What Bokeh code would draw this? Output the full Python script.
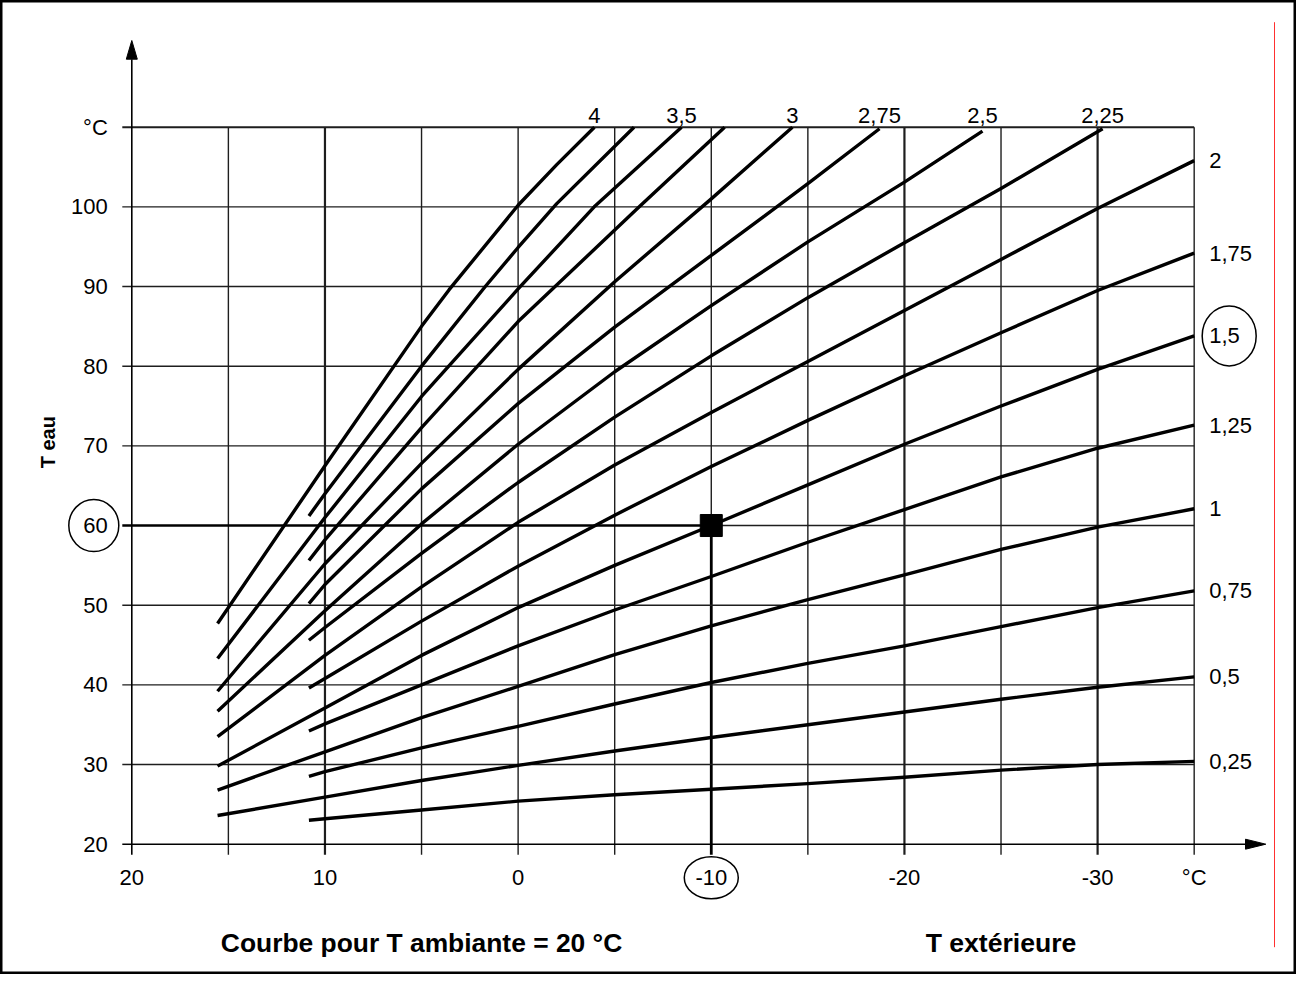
from bokeh.plotting import figure
from bokeh.models import Range1d
from bokeh.core.properties import value
from bokeh.embed import file_html
from bokeh.resources import INLINE

# ---------------- data ----------------
grid_t = [15, 10, 5, 0, -5, -10, -15, -20, -25, -30, -35]
thick_t = [10, -20, -30]
grid_y = [30, 40, 50, 60, 70, 80, 90, 100, 110]
y_ticks = [20, 30, 40, 50, 60, 70, 80, 90, 100, 110]
y_tick_labels = ["20", "30", "40", "50", "60", "70", "80", "90", "100", "°C"]
x_ticks = [20, 10, 0, -10, -20, -30, -35]
x_tick_labels = ["20", "10", "0", "-10", "-20", "-30", "°C"]

# heating curves: outside temperature (t) -> water temperature (y)
t_400 = [15.56, 10, 5, 3.57, 0, -2.0, -3.95]
y_400 = [47.7, 67.5, 85.0, 89.6, 100.2, 105.3, 110]
t_375 = [10.83, 10, 5, 1.7, 0, -2.0, -6.0]
y_375 = [61.2, 64.0, 80.0, 90.0, 94.9, 100.4, 110]
t_350 = [15.56, 10, 5, 0, -3.94, -8.46]
y_350 = [43.3, 61.0, 76.2, 89.7, 100, 110]
t_325 = [10.83, 10, 5, 0, -6.27, -10.69]
y_325 = [55.6, 58.2, 72.3, 85.6, 100, 110]
t_300 = [15.56, 10, 5, 0, -5, -10, -14.2]
y_300 = [39.2, 55.2, 67.8, 79.6, 90.6, 101.0, 110]
t_275 = [10.83, 10, 5, 0, -5, -10, -15, -18.71]
y_275 = [50.2, 52.6, 64.6, 75.3, 84.9, 93.9, 102.9, 109.8]
t_250 = [15.56, 10, 5, 0, -5, -10, -15, -20, -24.04]
y_250 = [36.7, 49.3, 60.2, 70.2, 79.3, 87.6, 95.6, 103.1, 109.5]
t_225 = [10.83, 10, 5, 0, -5, -10, -15, -20, -25, -30.26]
y_225 = [45.6, 47.2, 56.5, 65.4, 73.6, 81.3, 88.6, 95.5, 102.3, 109.8]
t_200 = [15.56, 10, 5, 0, -5, -10, -15, -20, -25, -30, -35]
y_200 = [33.5, 43.7, 52.3, 60.4, 67.6, 74.2, 80.6, 87.0, 93.4, 99.8, 105.8]
t_175 = [10.83, 10, 5, 0, -5, -10, -15, -20, -25, -30, -35]
y_175 = [39.6, 40.8, 48.0, 54.9, 61.3, 67.4, 73.2, 78.8, 84.2, 89.5, 94.2]
t_150 = [15.56, 10, 5, 0, -5, -10, -15, -20, -25, -30, -35]
y_150 = [29.8, 37.1, 43.7, 49.7, 55.0, 60.0, 65.1, 70.2, 75.0, 79.6, 83.8]
t_125 = [10.83, 10, 5, 0, -5, -10, -15, -20, -25, -30, -35]
y_125 = [34.2, 35.1, 40.0, 44.9, 49.4, 53.6, 57.9, 62.0, 66.1, 69.7, 72.6]
t_100 = [15.56, 10, 5, 0, -5, -10, -15, -20, -25, -30, -35]
y_100 = [26.8, 31.6, 35.9, 39.8, 43.8, 47.4, 50.7, 53.8, 57.0, 59.8, 62.1]
t_075 = [10.83, 10, 5, 0, -5, -10, -15, -20, -25, -30, -35]
y_075 = [28.5, 29.1, 32.1, 34.8, 37.6, 40.3, 42.7, 44.9, 47.3, 49.7, 51.8]
t_050 = [15.56, 10, 5, 0, -5, -10, -15, -20, -25, -30, -35]
y_050 = [23.6, 25.9, 28.0, 29.9, 31.7, 33.4, 35.0, 36.6, 38.2, 39.7, 41.0]
t_025 = [10.83, 10, 5, 0, -5, -10, -15, -20, -25, -30, -35]
y_025 = [23.0, 23.2, 24.3, 25.4, 26.2, 26.9, 27.6, 28.4, 29.3, 30.0, 30.4]

curve_labels = ["4", "", "3,5", "", "3", "2,75", "2,5", "2,25",
                "2", "1,75", "1,5", "1,25", "1", "0,75", "0,5", "0,25"]
circled_curve = "1,5"

point_t = -10   # chosen outside temperature
point_y = 60    # resulting water temperature

x_title = "T extérieure"
x_note = "Courbe pour T ambiante = 20 °C"
y_title = "T eau"

curves_t = [t_400, t_375, t_350, t_325, t_300, t_275, t_250, t_225,
            t_200, t_175, t_150, t_125, t_100, t_075, t_050, t_025]
curves_y = [y_400, y_375, y_350, y_325, y_300, y_275, y_250, y_225,
            y_200, y_175, y_150, y_125, y_100, y_075, y_050, y_025]

# ---------------- layout / scale constants ----------------
W, H = 1296, 974
PX_T = 19.316      # pixels per degree of outside temperature
PX_Y = 7.967       # pixels per degree of water temperature
X20 = 131.3        # canvas x of T=20
Y20 = 843.7        # canvas y (from top) of Y=20
T_MIN, T_MAX = -35, 20
Y_MIN, Y_MAX = 20, 110

def dt(px):
    return px / PX_T

def dyy(px):
    return px / PX_Y

x_left = T_MAX + dt(X20)
x_right = T_MAX - dt(W - X20)
y_top = Y_MIN + dyy(Y20)
y_bot = Y_MIN - dyy(H - Y20)

p = figure(width=W, height=H, x_range=Range1d(x_left, x_right),
           y_range=Range1d(y_bot, y_top), x_axis_type=None, y_axis_type=None,
           min_border=0, toolbar_location=None, output_backend="svg")
p.outline_line_color = "black"
p.outline_line_width = 4
p.background_fill_color = "white"
p.border_fill_color = "white"

FONT = value("Liberation Sans")
GRID = "#1e1e1e"
INK = "black"

y_low = Y_MIN - dyy(10.5)      # tick end below x-axis
t_leftick = T_MAX + dt(9.5)    # tick end left of y-axis

# vertical grid lines
for t in grid_t:
    lw = 2.2 if t in thick_t else 1.4
    if t == point_t:
        p.line([t, t], [point_y, Y_MAX], line_color=GRID, line_width=1.4)
        p.line([t, t], [y_low, point_y], line_color=INK, line_width=2.8)
    else:
        p.line([t, t], [y_low, Y_MAX], line_color=GRID, line_width=lw)

# horizontal grid lines
for yv in grid_y:
    lw = 2.0 if yv == Y_MAX else 1.4
    if yv == point_y:
        p.line([t_leftick, point_t], [yv, yv], line_color=INK, line_width=2.6)
        p.line([point_t, T_MIN], [yv, yv], line_color=GRID, line_width=1.4)
    else:
        p.line([t_leftick, T_MIN], [yv, yv], line_color=GRID, line_width=lw)

# axes with arrows
y_tip = Y_MIN + dyy(851.7 - 48)
y_base = Y_MIN + dyy(851.7 - 66.7)
t_tip = T_MAX - dt(1273.3 - 139.3)
t_base = T_MAX - dt(1253 - 139.3)
p.line([T_MAX, T_MAX], [y_low, y_base], line_color=INK, line_width=1.6)
p.line([t_leftick, t_base], [Y_MIN, Y_MIN], line_color=INK, line_width=1.6)
p.patch([T_MAX, T_MAX + dt(5.5), T_MAX - dt(5.5)], [y_tip, y_base, y_base],
        fill_color=INK, line_color=INK)
p.patch([t_tip, t_base, t_base], [Y_MIN, Y_MIN + dyy(5), Y_MIN - dyy(5)],
        fill_color=INK, line_color=INK)

# curves
for ts, ys in zip(curves_t, curves_y):
    p.line(ts, ys, line_color=INK, line_width=3.4, line_join="round")

# operating point
p.scatter([point_t], [point_y], marker="square", size=22, fill_color=INK, line_color=INK)

# curve labels
top_x, top_y, top_txt = [], [], []
rt_x, rt_y, rt_txt = [], [], []
for ts, ys, lab in zip(curves_t, curves_y, curve_labels):
    if not lab:
        continue
    if ys[-1] >= Y_MAX - 1:
        top_x.append(ts[-1]); top_y.append(Y_MAX + dyy(12)); top_txt.append(lab)
    else:
        rt_x.append(T_MIN - dt(15)); rt_y.append(ys[-1]); rt_txt.append(lab)
p.text(top_x, top_y, text=top_txt, text_font=FONT, text_font_size="22px",
       text_align="center", text_baseline="middle", text_color=INK)
p.text(rt_x, rt_y, text=rt_txt, text_font=FONT, text_font_size="22px",
       text_align="left", text_baseline="middle", text_color=INK)
ci = curve_labels.index(circled_curve)
p.ellipse([T_MIN - dt(35)], [curves_y[ci][-1]], width=54, height=60,
          width_units="screen", height_units="screen",
          fill_color=None, line_color=INK, line_width=1.5)

# tick labels
p.text([T_MAX + dt(24)] * len(y_ticks), y_ticks, text=y_tick_labels, text_font=FONT,
       text_font_size="22px", text_align="right", text_baseline="middle", text_color=INK)
p.text(x_ticks, [Y_MIN - dyy(33.5)] * len(x_ticks), text=x_tick_labels, text_font=FONT,
       text_font_size="22px", text_align="center", text_baseline="middle", text_color=INK)
# circled tick values
p.ellipse([T_MAX + dt(38)], [point_y], width=50, height=52,
          width_units="screen", height_units="screen",
          fill_color=None, line_color=INK, line_width=1.5)
p.ellipse([point_t], [Y_MIN - dyy(33.5)], width=54, height=42,
          width_units="screen", height_units="screen",
          fill_color=None, line_color=INK, line_width=1.5)

# titles
p.text([5], [Y_MIN - dyy(98.5)], text=[x_note], text_font=FONT, text_font_size="26.4px",
       text_font_style="bold", text_align="center", text_baseline="middle", text_color=INK)
p.text([-25], [Y_MIN - dyy(98.5)], text=[x_title], text_font=FONT, text_font_size="26.6px",
       text_font_style="bold", text_align="center", text_baseline="middle", text_color=INK)
p.text([T_MAX + dt(84)], [Y_MIN + dyy(402)], text=[y_title], text_font=FONT,
       text_font_size="20px", text_font_style="bold", angle=1.5708,
       text_align="center", text_baseline="middle", text_color=INK)

# red margin line
p.line([T_MAX - dt(1282 - 139.3)] * 2, [Y_MIN - dyy(103), Y_MIN + dyy(822)],
       line_color="#ff3030", line_width=1)

open("out.html", "w").write(file_html(p, INLINE))
